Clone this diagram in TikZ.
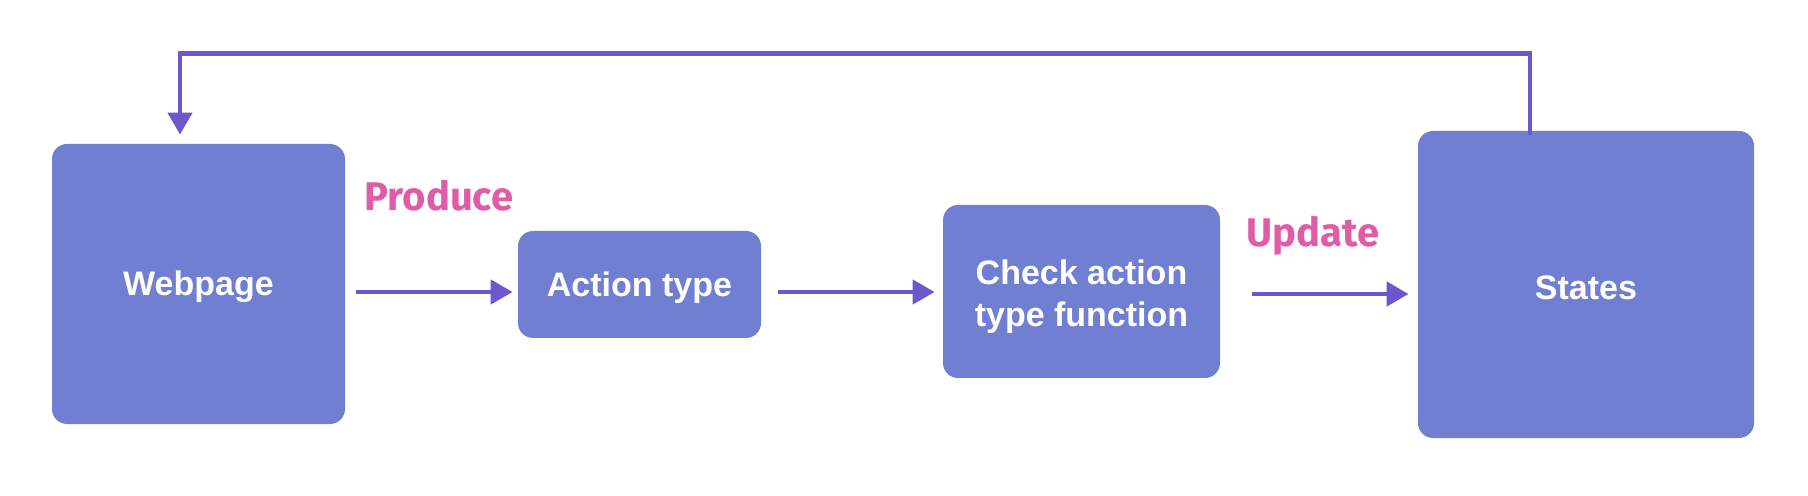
\documentclass[tikz,border=0pt]{standalone}
\usepackage{fontspec}
\setmainfont{Liberation Sans}
\newfontfamily\tagfont{Fira Sans}
\usetikzlibrary{arrows.meta}
\definecolor{boxblue}{HTML}{717FD3}
\definecolor{flowpurple}{HTML}{6E56CF}
\definecolor{tagpink}{HTML}{E05CA8}

\begin{document}
\begin{tikzpicture}[
    x=0.5pt, y=-0.5pt,
    block/.style={rectangle, rounded corners=7.5pt, fill=boxblue, text=white, inner sep=0pt, align=center, font=\fontsize{17}{21}\selectfont\bfseries},
    flow/.style={draw=flowpurple, line width=2.3pt, -{Triangle[length=11pt,width=12pt]}},
    tag/.style={text=tagpink, font=\tagfont\fontsize{20}{24}\selectfont\bfseries}
]
\useasboundingbox (0,0) rectangle (1808,496);

\node[block, minimum width=146.5pt, minimum height=140pt, text height=15pt] (web) at (198.5,284) {Webpage};
\node[block, minimum width=121.5pt, minimum height=53.5pt, text height=16pt] (act) at (639.5,284.5) {Action type};
\node[block, minimum width=138.5pt, minimum height=86.5pt] (chk) at (1081.5,291.5) {\rule{0pt}{18pt}Check action\\type function};
\node[block, minimum width=168pt, minimum height=153.5pt, text height=15pt] (sta) at (1586,284.5) {States};

\node[tag] (produce) at (439,196) {Produce};
\node[tag] (update) at (1313,236) {Update};

% forward flow
\coordinate (f1) at ([shift={(11,8)}]web.east);
\coordinate (f2) at ([shift={(17,7.5)}]act.east);
\coordinate (f3) at ([shift={(32,2.5)}]chk.east);
\draw[flow, shorten >=2.5pt] (f1) -- (f1 -| act.west);
\draw[flow, shorten >=4pt] (f2) -- (f2 -| chk.west);
\draw[flow, shorten >=4.5pt] (f3) -- (f3 -| sta.west);

% back to the page
\draw[flow] ([shift={(-56,4)}]sta.north) -- ++(0,-81) -| ([shift={(-18.5,-9)}]web.north);
\end{tikzpicture}
\end{document}
